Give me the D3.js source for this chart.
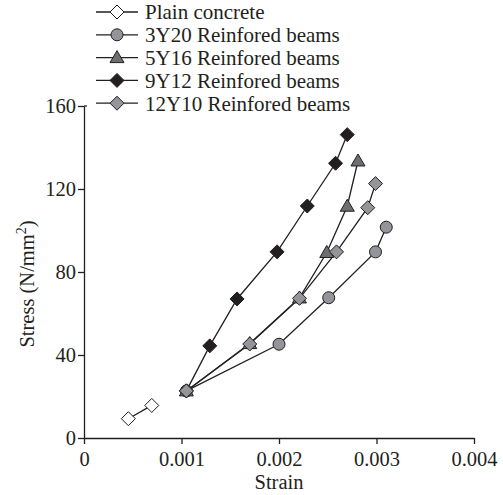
<!DOCTYPE html>
<html>
<head>
<meta charset="utf-8">
<script src="https://cdn.jsdelivr.net/npm/d3@7"></script>
<style>
  body { margin: 0; background: #fff; }
  text { font-family: "Liberation Serif", "Times New Roman", serif; fill: #231f20; }
</style>
</head>
<body>
<div id="chart"></div>
<script>
// Data
const seriesNames = ["Plain concrete", "3Y20 Reinfored beams", "5Y16 Reinfored beams", "9Y12 Reinfored beams", "12Y10 Reinfored beams"];
const plainStrain = [0.000455, 0.000695];
const plainStress = [9.3, 15.7];
const y20Strain = [0.00105, 0.0020, 0.00251, 0.00299, 0.0031];
const y20Stress = [22.7, 45.2, 67.6, 89.7, 101.6];
const y16Strain = [0.00105, 0.0017, 0.00221, 0.00249, 0.0027, 0.00281];
const y16Stress = [22.7, 45.5, 67.5, 89.4, 111.7, 133.5];
const y12Strain = [0.00105, 0.00129, 0.00157, 0.00198, 0.00229, 0.00258, 0.0027];
const y12Stress = [22.7, 44.4, 67.0, 89.7, 111.8, 132.4, 146.2];
const y10Strain = [0.00105, 0.0017, 0.00221, 0.00259, 0.00291, 0.00299];
const y10Stress = [22.7, 45.3, 67.3, 89.7, 111.0, 122.6];
const xTicks = [0, 0.001, 0.002, 0.003, 0.004];
const yTicks = [0, 40, 80, 120, 160];

const zip = (xs, ys) => xs.map((x, i) => ({ x: x, y: ys[i] }));
const series = [
  { name: seriesNames[0], shape: "diamond", fill: "#ffffff", pts: zip(plainStrain, plainStress) },
  { name: seriesNames[1], shape: "circle", fill: "#939598", pts: zip(y20Strain, y20Stress) },
  { name: seriesNames[2], shape: "triangle", fill: "#6d6e71", pts: zip(y16Strain, y16Stress) },
  { name: seriesNames[3], shape: "diamond", fill: "#231f20", pts: zip(y12Strain, y12Stress) },
  { name: seriesNames[4], shape: "diamond", fill: "#939598", pts: zip(y10Strain, y10Stress) }
];

const W = 503, H = 495;
const margin = { top: 106, right: 29, bottom: 57, left: 84 },
      width = W - margin.left - margin.right,
      height = H - margin.top - margin.bottom;

const svg = d3.select("#chart")
  .append("svg")
  .attr("width", W)
  .attr("height", H);

const g = svg.append("g")
  .attr("transform", `translate(${margin.left}, ${margin.top})`);

const x = d3.scaleLinear().domain([0, 0.004]).range([0, width]);
const y = d3.scaleLinear().domain([0, 160]).range([height, 0]);

// axes
const xAxis = g.append("g")
  .attr("transform", `translate(0, ${height})`)
  .call(d3.axisBottom(x).tickValues(xTicks).tickSize(6).tickSizeOuter(0)
    .tickFormat(d => d === 0 ? "0" : d3.format(".3f")(d)));
const yAxis = g.append("g")
  .call(d3.axisLeft(y).tickValues(yTicks).tickSize(6).tickSizeOuter(0));

[xAxis, yAxis].forEach(a => {
  a.selectAll("path, line").attr("stroke", "#231f20").attr("stroke-width", 1.3);
  a.selectAll("text").style("font-size", "20.5px").style("font-family", "Liberation Serif").attr("fill", "#231f20");
});
xAxis.selectAll("text").attr("dy", "0.95em");
yAxis.selectAll("text").attr("x", -8);

// small stub at top of the y axis
g.append("line")
  .attr("x1", 0).attr("x2", 3)
  .attr("y1", y(160)).attr("y2", y(160))
  .attr("stroke", "#231f20").attr("stroke-width", 1.3);

// axis labels
svg.append("text")
  .attr("x", margin.left + width / 2)
  .attr("y", H - 6)
  .style("text-anchor", "middle")
  .style("font-size", "20.5px")
  .text("Strain");

const yl = svg.append("text")
  .attr("transform", `translate(34, ${284}) rotate(-90)`)
  .style("text-anchor", "middle")
  .style("font-size", "20.5px");
yl.append("tspan").text("Stress (N/mm");
yl.append("tspan").attr("dy", -8).style("font-size", "14px").text("2");
yl.append("tspan").attr("dy", 8).text(")");

// marker drawing
function drawMarker(sel, shape, fill) {
  if (shape === "circle") {
    sel.append("circle").attr("r", 6);
  } else if (shape === "triangle") {
    sel.append("path").attr("d", "M0,-7L7,5L-7,5Z");
  } else {
    sel.append("path").attr("d", "M0,-7L7,0L0,7L-7,0Z");
  }
  sel.selectAll("circle, path")
    .attr("fill", fill)
    .attr("stroke", "#231f20")
    .attr("stroke-width", 1);
}

const line = d3.line().x(d => x(d.x)).y(d => y(d.y));

series.forEach(s => {
  g.append("path")
    .datum(s.pts)
    .attr("fill", "none")
    .attr("stroke", "#231f20")
    .attr("stroke-width", 1.3)
    .attr("d", line);
});
series.forEach(s => {
  s.pts.forEach(p => {
    const m = g.append("g").attr("transform", `translate(${x(p.x)}, ${y(p.y)})`);
    drawMarker(m, s.shape, s.fill);
  });
});

// legend
const legend = svg.append("g").attr("transform", "translate(96, 12)");
series.forEach((s, i) => {
  const row = legend.append("g").attr("transform", `translate(0, ${i * 22.8})`);
  row.append("line")
    .attr("x1", 0).attr("x2", 42)
    .attr("stroke", "#231f20").attr("stroke-width", 1.3);
  drawMarker(row.append("g").attr("transform", "translate(21, 0)"), s.shape, s.fill);
  row.append("text")
    .attr("x", 49)
    .attr("dy", "0.35em")
    .style("font-size", "21px")
    .text(s.name);
});
</script>
</body>
</html>
